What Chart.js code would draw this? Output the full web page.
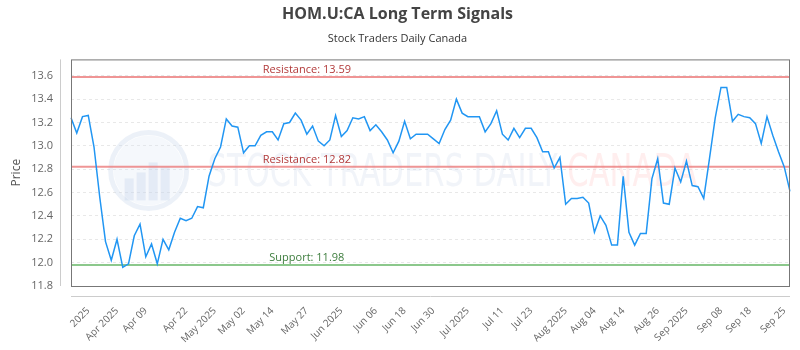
<!DOCTYPE html>
<html>
<head>
<meta charset="utf-8">
<script src="https://cdn.jsdelivr.net/npm/chart.js@4.4.1/dist/chart.umd.min.js"></script>
<style>
  html, body { margin: 0; padding: 0; background: #fff; }
  #wrap { width: 800px; height: 350px; }
</style>
</head>
<body>
<div id="wrap"><canvas id="chart"></canvas></div>
<script>
'use strict'

// daily closes
const prices = [
    13.24, 13.11, 13.25, 13.26, 12.99, 12.56, 12.18, 12.02, 12.20, 11.96,
    11.99, 12.23, 12.33, 12.05, 12.16, 11.99, 12.20, 12.11, 12.26, 12.38,
    12.36, 12.38, 12.48, 12.47, 12.74, 12.89, 12.99, 13.23, 13.17, 13.16,
    12.94, 13.00, 13.00, 13.09, 13.12, 13.12, 13.05, 13.19, 13.20, 13.28,
    13.22, 13.10, 13.17, 13.04, 13.00, 13.05, 13.26, 13.08, 13.13, 13.24,
    13.23, 13.25, 13.13, 13.18, 13.12, 13.05, 12.94, 13.04, 13.21, 13.06,
    13.10, 13.10, 13.10, 13.06, 13.02, 13.14, 13.22, 13.40, 13.28, 13.25,
    13.25, 13.25, 13.12, 13.19, 13.30, 13.10, 13.05, 13.15, 13.07, 13.15,
    13.15, 13.07, 12.95, 12.95, 12.81, 12.90, 12.50, 12.55, 12.55, 12.56,
    12.51, 12.26, 12.40, 12.32, 12.15, 12.15, 12.74, 12.26, 12.15, 12.25,
    12.25, 12.72, 12.89, 12.51, 12.50, 12.81, 12.69, 12.87, 12.66, 12.65,
    12.55, 12.89, 13.24, 13.50, 13.50, 13.21, 13.27, 13.25, 13.24, 13.19,
    13.02, 13.25, 13.09, 12.95, 12.82, 12.61
];

const tickLabels = [
    '2025', 'Apr 2025', 'Apr 09', 'Apr 22', 'May 2025', 'May 02', 'May 14', 'May 27',
    'Jun 2025', 'Jun 06', 'Jun 18', 'Jun 30', 'Jul 2025', 'Jul 11', 'Jul 23',
    'Aug 2025', 'Aug 04', 'Aug 14', 'Aug 26', 'Sep 2025', 'Sep 08', 'Sep 18', 'Sep 25'
];
const tickIndex = [
    3, 8, 13, 20, 25, 30, 35, 41,
    47, 53, 58, 63, 69, 75, 80,
    86, 91, 96, 102, 107, 113, 118, 124
];

const levelNames = ['Resistance', 'Resistance', 'Support'];
const levelValues = [13.59, 12.82, 11.98];

const labels = prices.map((p, i) => {
    const k = tickIndex.indexOf(i);
    return k >= 0 ? tickLabels[k] : '';
});

const decor = {
    id: 'decor',
    beforeDatasetsDraw(chart) {
        const { ctx, chartArea: a, scales: { y } } = chart;
        const w = a.right - a.left;
        const h = a.bottom - a.top;
        ctx.save();

        // faint watermark logo + text
        const cx = a.left + w * 0.108, cy = a.top + h * 0.49, r = 38;
        ctx.strokeStyle = 'rgba(200, 214, 236, 0.35)';
        ctx.lineWidth = 5;
        ctx.beginPath();
        ctx.arc(cx, cy, r, 0, Math.PI * 2);
        ctx.stroke();
        ctx.fillStyle = 'rgba(215, 226, 242, 0.25)';
        ctx.beginPath();
        ctx.arc(cx, cy, r - 3, 0, Math.PI * 2);
        ctx.fill();
        ctx.fillStyle = 'rgba(190, 206, 232, 0.3)';
        [[-24, 8], [-12, 2], [0, -8], [12, -4]].forEach(([dx, top]) => {
            ctx.fillRect(cx + dx, cy + top, 9, 30 - top);
        });

        ctx.font = '44px "DejaVu Sans Condensed", "Liberation Sans Narrow", sans-serif';
        ctx.textBaseline = 'middle';
        ctx.textAlign = 'left';
        const t1 = 'STOCK TRADERS DAILY ';
        const t2 = 'CANADA';
        const x0 = a.left + w * 0.19, x1 = a.left + w * 0.871;
        const full = ctx.measureText(t1 + t2).width;
        const sx = (x1 - x0) / full;
        const ty = a.top + h * 0.51;
        ctx.save();
        ctx.translate(x0, ty);
        ctx.scale(sx, 1);
        ctx.fillStyle = 'rgba(200, 212, 232, 0.26)';
        ctx.fillText(t1, 0, 0);
        ctx.fillStyle = 'rgba(255, 190, 190, 0.26)';
        ctx.fillText(t2, ctx.measureText(t1).width, 0);
        ctx.restore();

        // support / resistance lines
        ctx.font = '11px "Open Sans", sans-serif';
        ctx.textAlign = 'center';
        ctx.textBaseline = 'bottom';
        levelValues.forEach((v, i) => {
            const py = y.getPixelForValue(v);
            const support = levelNames[i] === 'Support';
            ctx.strokeStyle = support ? 'rgba(120, 190, 120, 0.85)' : 'rgba(236, 130, 130, 0.85)';
            ctx.lineWidth = 2;
            ctx.beginPath();
            ctx.moveTo(a.left, py);
            ctx.lineTo(a.right, py);
            ctx.stroke();
            ctx.fillStyle = support ? '#3d7d3d' : '#b23a3a';
            ctx.fillText(levelNames[i] + ': ' + v.toFixed(2), a.left + w * 0.328, py - 2);
        });
        ctx.restore();
    },
    afterDraw(chart) {
        const { ctx, chartArea: a } = chart;
        ctx.save();
        ctx.lineWidth = 1;
        ctx.strokeStyle = '#777';
        ctx.strokeRect(a.left + 0.5, a.top + 0.5, a.right - a.left - 1, a.bottom - a.top);
        ctx.strokeStyle = '#ccc';
        ctx.beginPath();
        ctx.moveTo(a.left - 10.5, a.top);
        ctx.lineTo(a.left - 10.5, a.bottom);
        ctx.moveTo(a.left, a.bottom + 10.5);
        ctx.lineTo(a.right, a.bottom + 10.5);
        ctx.stroke();
        ctx.restore();
    }
};

const chart = new Chart(document.getElementById('chart'), {
    type: 'line',
    data: {
        labels: labels,
        datasets: [
            {
                label: 'HOM.U:CA',
                data: prices,
                borderColor: '#2196f3',
                borderWidth: 1.5,
                pointRadius: 0,
                tension: 0,
                fill: false
            }
        ]
    },
    plugins: [decor],
    options: {
        responsive: true,
        maintainAspectRatio: false,
        animation: false,
        devicePixelRatio: 1,
        layout: { padding: { left: 5, right: 10, top: 0, bottom: 0 } },
        plugins: {
            legend: { display: false },
            tooltip: { enabled: false },
            title: {
                display: true,
                text: 'HOM.U:CA Long Term Signals',
                color: '#444',
                font: { family: '"Open Sans", sans-serif', size: 16, weight: 'bold' },
                padding: { top: 5, bottom: 5 }
            },
            subtitle: {
                display: true,
                text: 'Stock Traders Daily Canada',
                color: '#333',
                font: { family: '"Open Sans", sans-serif', size: 11 },
                padding: { top: 3, bottom: 14 }
            }
        },
        scales: {
            x: {
                grid: { display: false },
                border: { display: false },
                afterFit: s => {
                    s.height = 64;
                    s.paddingLeft = 0;
                    s.paddingRight = 0;
                },
                ticks: {
                    autoSkip: false,
                    minRotation: 45,
                    maxRotation: 45,
                    padding: 11,
                    color: '#666',
                    font: { family: '"Open Sans", sans-serif', size: 10 }
                }
            },
            y: {
                min: 11.8,
                max: 13.74,
                afterFit: s => { s.width = 66; },
                title: {
                    display: true,
                    text: 'Price',
                    color: '#555',
                    font: { family: '"Open Sans", sans-serif', size: 12 },
                    padding: { top: 4, bottom: 6 }
                },
                grid: { color: '#e8e8e8', drawTicks: false },
                border: { display: false, dash: [3, 3] },
                ticks: {
                    stepSize: 0.2,
                    includeBounds: false,
                    padding: 18,
                    color: '#666',
                    font: { family: '"Open Sans", sans-serif', size: 11 },
                    callback: v => v.toFixed(1)
                }
            }
        }
    }
});
</script>
</body>
</html>
